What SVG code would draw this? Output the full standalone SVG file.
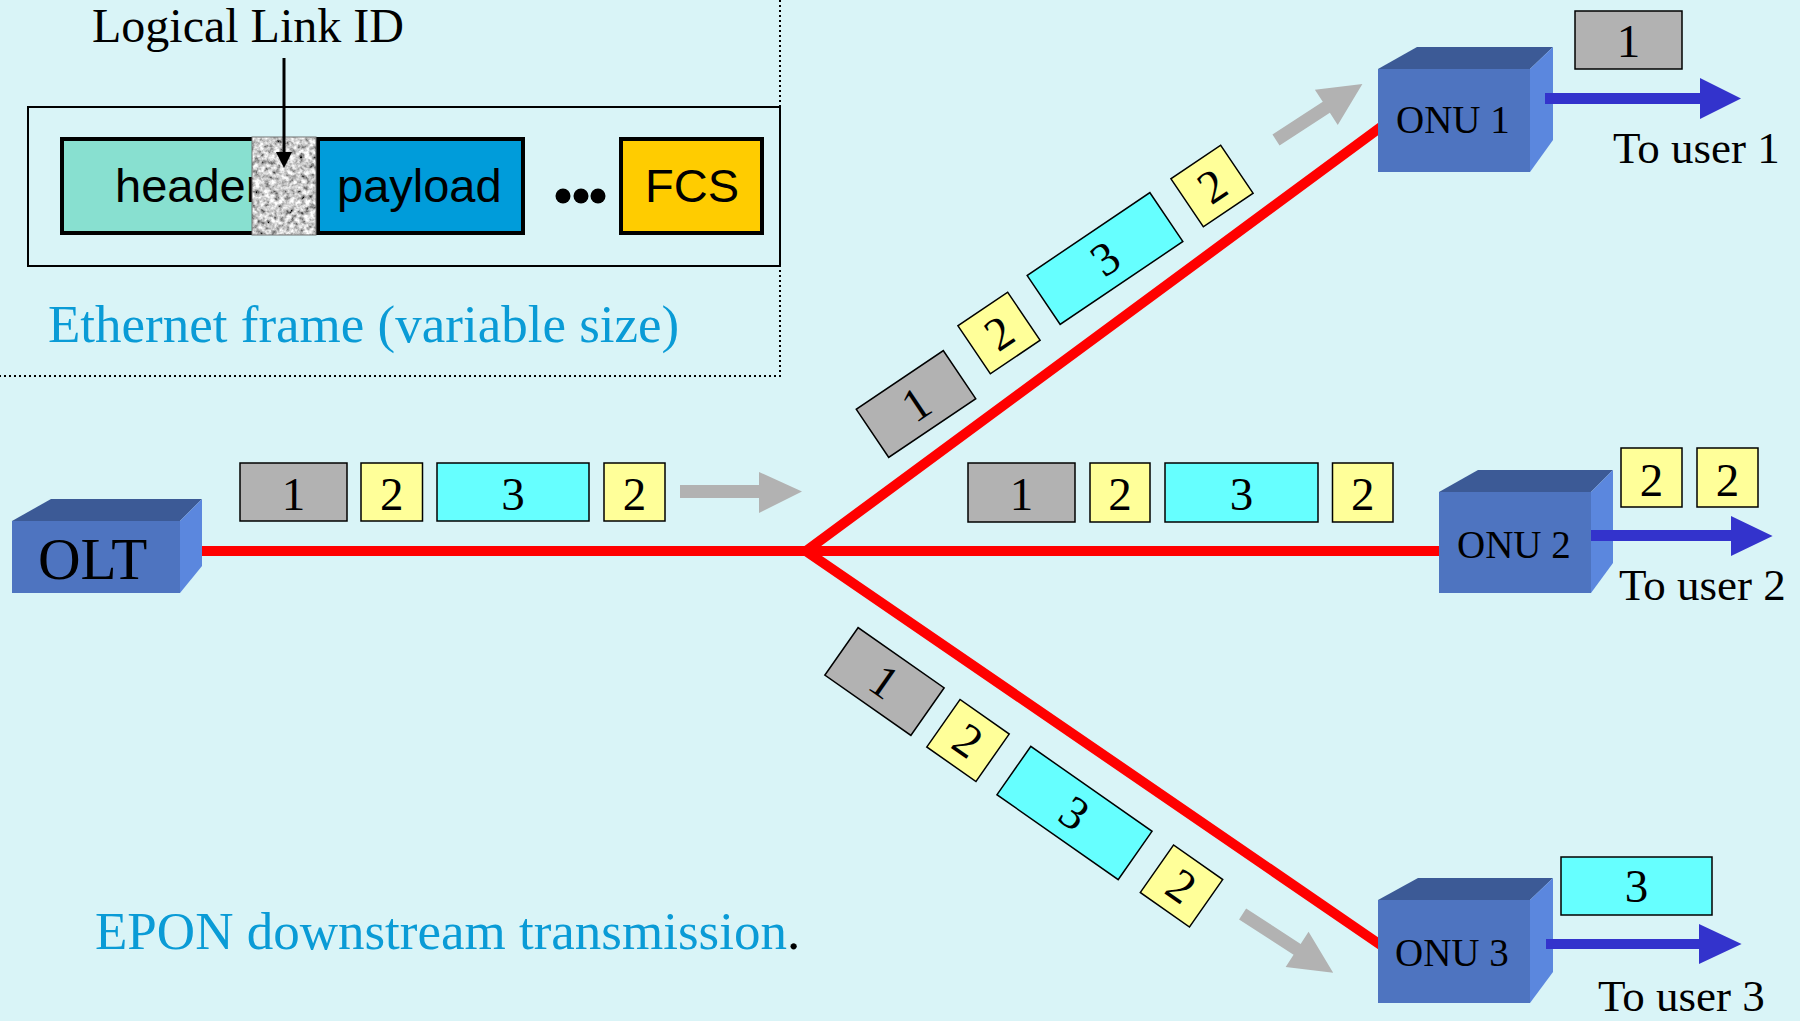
<svg xmlns="http://www.w3.org/2000/svg" width="1800" height="1021" viewBox="0 0 1800 1021">
<defs>
<style>
.serif{font-family:"Liberation Serif","Times New Roman",serif;fill:#000}
.sans{font-family:"Liberation Sans",Arial,sans-serif;fill:#000}
.num{font-family:"Liberation Serif","Times New Roman",serif;font-size:47px;text-anchor:middle;fill:#000}
.onu{font-family:"Liberation Serif","Times New Roman",serif;font-size:39px;fill:#000}
.user{font-family:"Liberation Serif","Times New Roman",serif;font-size:45px;fill:#000}
.cap{font-family:"Liberation Serif","Times New Roman",serif;fill:#0A9BD6}
.g{fill:#B2B2B2;stroke:#000;stroke-width:1.5}
.y{fill:#FFFF99;stroke:#000;stroke-width:1.5}
.c{fill:#66FFFF;stroke:#000;stroke-width:1.5}
.front{fill:#4E74C0}
.top{fill:#3C5A96}
.side{fill:#5B87DE}
.fiber{fill:none;stroke:#FF0000;stroke-width:10;stroke-linejoin:miter}
.garrow{fill:#B2B2B2}
.barrow{fill:#3333CC}
.frame{stroke:#000;stroke-width:4}
</style>
<filter id="noise" x="0" y="0" width="1" height="1">
<feTurbulence type="fractalNoise" baseFrequency="0.2" numOctaves="3" seed="7" result="t"/>
<feColorMatrix in="t" type="matrix" values="1.8 0 0 0 -0.3  1.8 0 0 0 -0.3  1.8 0 0 0 -0.3  0 0 0 0 1" result="m"/>
<feComposite in="m" in2="SourceGraphic" operator="in"/>
</filter>
</defs>
<rect width="1800" height="1021" fill="#D9F4F7"/>

<g id="frame-panel">
<path d="M780,0 V376 H0" fill="none" stroke="#000" stroke-width="2" stroke-dasharray="2,3"/>
<rect x="28" y="107" width="752" height="159" fill="none" stroke="#000" stroke-width="2"/>
<rect x="62" y="139" width="200" height="94" fill="#88E0D0" class="frame"/>
<text x="115" y="202" class="sans" font-size="47">header</text>
<rect x="318" y="139" width="205" height="94" fill="#009CDA" class="frame"/>
<text x="337" y="202" class="sans" font-size="47">payload</text>
<rect x="252" y="137" width="64" height="98" fill="#A8A8A8" filter="url(#noise)"/>
<rect x="252" y="137" width="64" height="98" fill="none" stroke="#707070" stroke-width="1"/>
<circle cx="563" cy="196" r="7.5" fill="#000"/>
<circle cx="581" cy="196" r="7.5" fill="#000"/>
<circle cx="598" cy="196" r="7.5" fill="#000"/>
<rect x="621" y="139" width="141" height="94" fill="#FFCC00" class="frame"/>
<text x="645" y="202" class="sans" font-size="47">FCS</text>
<text x="92" y="42" class="serif" font-size="48">Logical Link ID</text>
<line x1="284" y1="58" x2="284" y2="155" stroke="#000" stroke-width="3"/>
<polygon points="276,152 292,152 284,168" fill="#000"/>
<text x="48" y="342" class="cap" font-size="53">Ethernet frame (variable size)</text>
</g>

<g id="connectors">
<line x1="194" y1="551" x2="1445" y2="551" stroke="#FF0000" stroke-width="10"/>
<polyline class="fiber" points="1385,124 806,551 1385,948"/>
</g>

<g id="OLT">
<rect x="12" y="521" width="168" height="72" class="front"/>
<polygon points="12,521 51,499 202,499 180,521" class="top"/>
<polygon points="180,521 202,499 202,566 180,593" class="side"/>
<text x="38" y="579" class="serif" font-size="59">OLT</text>
</g>

<g id="ONU1">
<rect x="1378" y="69" width="152" height="103" class="front"/>
<polygon points="1378,69 1417,47 1553,47 1530,69" class="top"/>
<polygon points="1530,69 1553,47 1553,140 1530,172" class="side"/>
<text x="1396" y="133" class="onu">ONU 1</text>
</g>

<g id="ONU2">
<rect x="1439" y="492" width="152" height="101" class="front"/>
<polygon points="1439,492 1478,470 1613,470 1591,492" class="top"/>
<polygon points="1591,492 1613,470 1613,563 1591,593" class="side"/>
<text x="1457" y="558" class="onu">ONU 2</text>
</g>

<g id="ONU3">
<rect x="1378" y="900" width="152" height="103" class="front"/>
<polygon points="1378,900 1418,878 1553,878 1530,900" class="top"/>
<polygon points="1530,900 1553,878 1553,972 1530,1003" class="side"/>
<text x="1395" y="966" class="onu">ONU 3</text>
</g>

<g id="olt-frames">
<rect x="240" y="463" width="107" height="58" class="g"/><text x="293.5" y="510" class="num">1</text>
<rect x="361" y="463" width="61.5" height="58" class="y"/><text x="391.75" y="510" class="num">2</text>
<rect x="437" y="463" width="152" height="58" class="c"/><text x="513" y="510" class="num">3</text>
<rect x="604" y="463" width="61" height="58" class="y"/><text x="634.5" y="510" class="num">2</text>
<polygon class="garrow" points="680,485 759,485 759,472 802,491.5 759,513 759,498 680,498"/>
</g>

<g id="branch1-frames">
<g transform="translate(916,404) rotate(-34)"><rect x="-52.5" y="-29" width="105" height="58" class="g"/><text x="0" y="16" class="num">1</text></g>
<g transform="translate(999,333) rotate(-34)"><rect x="-30" y="-29" width="60" height="58" class="y"/><text x="0" y="16" class="num">2</text></g>
<g transform="translate(1105,258.5) rotate(-34)"><rect x="-74" y="-29.5" width="148" height="59" class="c"/><text x="0" y="16" class="num">3</text></g>
<g transform="translate(1212,186) rotate(-34)"><rect x="-30" y="-29" width="60" height="58" class="y"/><text x="0" y="16" class="num">2</text></g>
<polygon class="garrow" transform="translate(1276,140) rotate(-33)" points="0,-6.5 60,-6.5 60,-21 103,0 60,21 60,6.5 0,6.5"/>
</g>

<g id="branch2-frames">
<rect x="968" y="463" width="107" height="59" class="g"/><text x="1021.5" y="510" class="num">1</text>
<rect x="1090" y="463" width="60" height="59" class="y"/><text x="1120" y="510" class="num">2</text>
<rect x="1165" y="463" width="153" height="59" class="c"/><text x="1241.5" y="510" class="num">3</text>
<rect x="1332.5" y="463" width="60.5" height="59" class="y"/><text x="1362.75" y="510" class="num">2</text>
</g>

<g id="branch3-frames">
<g transform="translate(884.5,681.5) rotate(35)"><rect x="-52.5" y="-29" width="105" height="58" class="g"/><text x="0" y="16" class="num">1</text></g>
<g transform="translate(968,740.5) rotate(35)"><rect x="-30" y="-29" width="60" height="58" class="y"/><text x="0" y="16" class="num">2</text></g>
<g transform="translate(1074.5,813) rotate(35)"><rect x="-74" y="-29.5" width="148" height="59" class="c"/><text x="0" y="16" class="num">3</text></g>
<g transform="translate(1181.5,886) rotate(35)"><rect x="-30" y="-29" width="60" height="58" class="y"/><text x="0" y="16" class="num">2</text></g>
<polygon class="garrow" transform="translate(1242.6,914) rotate(33)" points="0,-6.5 65,-6.5 65,-21 108,0 65,21 65,6.5 0,6.5"/>
</g>

<g id="user1">
<polygon class="barrow" points="1545,93 1700,93 1700,78 1741,98.5 1700,119 1700,104 1545,104"/>
<rect x="1575" y="11" width="107" height="58" class="g"/><text x="1628.5" y="57" class="num">1</text>
<text x="1613" y="163" class="user">To user 1</text>
</g>

<g id="user2">
<polygon class="barrow" points="1591,530 1731,530 1731,516 1772.6,536 1731,556 1731,541 1591,541"/>
<rect x="1621" y="448" width="61" height="59" class="y"/><text x="1651.5" y="496" class="num">2</text>
<rect x="1697" y="448" width="61" height="59" class="y"/><text x="1727.5" y="496" class="num">2</text>
<text x="1619" y="600" class="user">To user 2</text>
</g>

<g id="user3">
<polygon class="barrow" points="1546,939 1699,939 1699,924 1741.6,944 1699,964 1699,949 1546,949"/>
<rect x="1561" y="857" width="151" height="58" class="c"/><text x="1636.5" y="902" class="num">3</text>
<text x="1598" y="1011" class="user">To user 3</text>
</g>

<g id="caption">
<text x="95" y="949" class="cap" font-size="53">EPON downstream transmission<tspan fill="#000">.</tspan></text>
</g>
</svg>
